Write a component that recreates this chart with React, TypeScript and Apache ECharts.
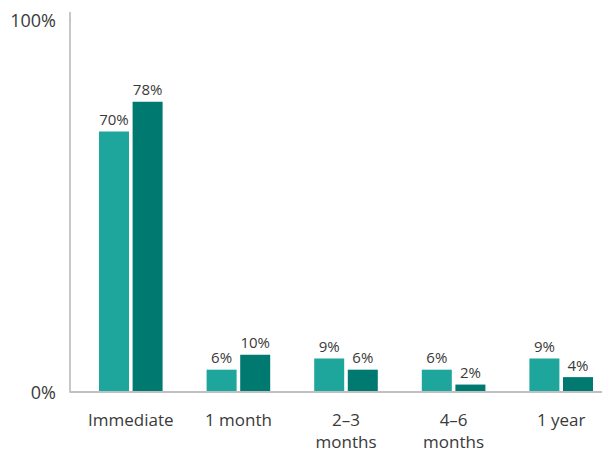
import React, { useEffect, useRef } from "react";
import * as echarts from "echarts";

const categories = ["Immediate", "1 month", "2–3\nmonths", "4–6\nmonths", "1 year"];
const seriesA = [70, 6, 9, 6, 9];
const seriesB = [78, 10, 6, 2, 4];
const yTicks = [0, 100];

const FONT = "'Open Sans', Lato, sans-serif";

export default function App() {
  const ref = useRef<HTMLDivElement>(null);
  useEffect(() => {
    if (!ref.current) return;
    const chart = echarts.init(ref.current, undefined, { renderer: "svg" });
    const labelCfg = {
      show: true,
      position: "top" as const,
      distance: 5,
      formatter: "{c}%",
      color: "#3a3a3a",
      fontSize: 15,
      fontFamily: FONT,
    };
    chart.setOption({
      animation: false,
      grid: {
        left: 77,
        width: 538,
        top: 20,
        bottom: 60,
        containLabel: false,
        outerBoundsMode: "none",
      },
      xAxis: {
        type: "category",
        data: categories,
        axisLine: { show: false },
        axisTick: { show: false },
        axisLabel: {
          color: "#3a3a3a",
          fontSize: 17,
          fontFamily: FONT,
          lineHeight: 21.5,
          margin: 17,
          interval: 0,
        },
      },
      yAxis: {
        type: "value",
        min: yTicks[0],
        max: yTicks[1],
        interval: 100,
        offset: 7,
        splitLine: { show: false },
        axisLine: { show: true, lineStyle: { color: "#b5b5b5", width: 1.5 } },
        axisTick: { show: false },
        axisLabel: {
          formatter: "{value}%",
          color: "#3a3a3a",
          fontSize: 18,
          fontFamily: FONT,
          margin: 14,
          verticalAlign: "middle",
        },
      },
      graphic: [
        {
          type: "line",
          shape: { x1: 70, y1: 392, x2: 602, y2: 392 },
          style: { stroke: "#c0c0c0", lineWidth: 2 },
          z: 10,
        },
        {
          type: "line",
          shape: { x1: 70, y1: 12, x2: 70, y2: 20 },
          style: { stroke: "#b5b5b5", lineWidth: 1.5 },
        },
      ],
      series: [
        {
          type: "bar",
          data: seriesA,
          barWidth: 30,
          barGap: "12%",
          itemStyle: { color: "#1ea59c" },
          label: labelCfg,
        },
        {
          type: "bar",
          data: seriesB,
          barWidth: 30,
          itemStyle: { color: "#007a71" },
          label: labelCfg,
        },
      ],
    });
    return () => chart.dispose();
  }, []);
  return (
    <div
      ref={ref}
      style={{ position: "fixed", left: 0, top: 0, width: 602, height: 452, background: "#fff" }}
    />
  );
}
